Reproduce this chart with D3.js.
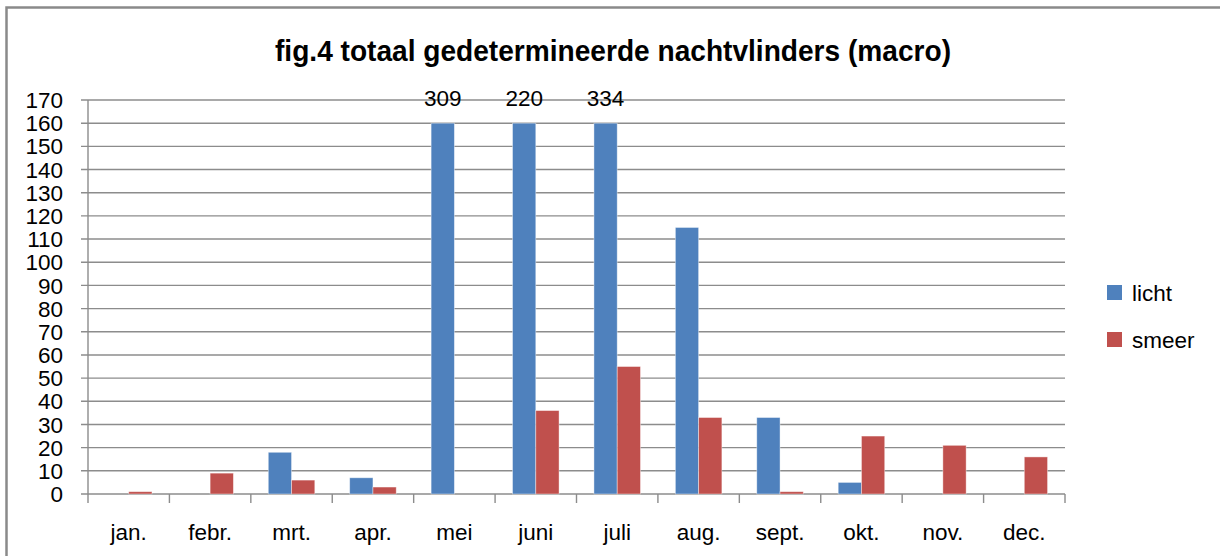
<!DOCTYPE html>
<html><head><meta charset="utf-8">
<script src="https://cdn.jsdelivr.net/npm/d3@7"></script>
<style>body{margin:0;background:#fff}svg{display:block}</style>
</head><body>
<svg id="c" width="1220" height="556"></svg>
<script>
const categories = ["jan.","febr.","mrt.","apr.","mei","juni","juli","aug.","sept.","okt.","nov.","dec."];
const licht = [0,0,18,7,309,220,334,115,33,5,0,0];
const smeer = [1,9,6,3,0,36,55,33,1,25,21,16];
const seriesNames = ["licht","smeer"];
const yTicks = d3.range(0,171,10);
const displayCap = 160; // bars above this value are drawn cut off and labelled
const title = "fig.4 totaal gedetermineerde nachtvlinders (macro)";

(function(){
const colors = ["#4F81BD","#C0504D"];
const FONT = "'Liberation Sans', Arial, sans-serif";
const FS = 22.5;
const svg = d3.select("#c");

// outer border
svg.append("rect").attr("x",6.5).attr("y",7.5).attr("width",1300).attr("height",700)
  .attr("fill","none").attr("stroke","#8a8a8a").attr("stroke-width",2.5);

const pL=88, pR=1065, pT=100, pB=494;
const x = d3.scaleBand().domain(categories).range([pL,pR]).paddingInner(0).paddingOuter(0);
const y = d3.scaleLinear().domain([0,170]).range([pB,pT]);
const bw = x.bandwidth()/3.5;
const xs = d3.scaleBand().domain(seriesNames).range([0,2*bw]);

// gridlines
svg.append("g").selectAll("line").data(yTicks).join("line")
  .attr("x1",pL-7).attr("x2",pR).attr("y1",d=>y(d)).attr("y2",d=>y(d))
  .attr("stroke","#8c8c8c").attr("stroke-width",1.4);

// y axis labels
svg.append("g").selectAll("text").data(yTicks).join("text")
  .attr("x",63).attr("y",d=>y(d)).attr("dy","0.36em").attr("text-anchor","end")
  .attr("font-family",FONT).attr("font-size",FS).attr("fill","#000").text(d=>d);

// y axis line
svg.append("line").attr("x1",pL).attr("x2",pL).attr("y1",pT).attr("y2",pB+9)
  .attr("stroke","#8c8c8c").attr("stroke-width",1.4);
// x ticks
const xt = categories.map(c=>x(c)).concat([pR]);
svg.append("g").selectAll("line").data(xt.slice(1)).join("line")
  .attr("x1",d=>d).attr("x2",d=>d).attr("y1",pB).attr("y2",pB+9)
  .attr("stroke","#8c8c8c").attr("stroke-width",1.4);

// bars
const data = [licht, smeer];
data.forEach((vals,si)=>{
  svg.append("g").selectAll("rect").data(vals.map((v,i)=>({v,c:categories[i]}))).join("rect")
    .attr("x",d=>x(d.c)+x.bandwidth()/2-bw+xs(seriesNames[si]))
    .attr("width",bw)
    .attr("y",d=>y(Math.min(d.v,displayCap)))
    .attr("height",d=>pB-y(Math.min(d.v,displayCap)))
    .attr("fill",colors[si]).attr("stroke","rgba(255,255,255,0.5)").attr("stroke-width",0.8);
});

// value labels for cut-off bars
svg.append("g").selectAll("text").data(licht.map((v,i)=>({v,c:categories[i]})).filter(d=>d.v>displayCap)).join("text")
  .attr("x",d=>x(d.c)+x.bandwidth()/2-bw/2).attr("y",106).attr("text-anchor","middle")
  .attr("font-family",FONT).attr("font-size",FS).attr("fill","#000").text(d=>d.v);

// x labels
svg.append("g").selectAll("text").data(categories).join("text")
  .attr("x",d=>x(d)+x.bandwidth()/2).attr("y",540).attr("text-anchor","middle")
  .attr("font-family",FONT).attr("font-size",FS).attr("fill","#000").text(d=>d);

// title
svg.append("text").attr("x",613).attr("y",61).attr("text-anchor","middle")
  .attr("font-family",FONT).attr("font-weight","bold").attr("font-size",29)
  .attr("textLength",676).attr("lengthAdjust","spacingAndGlyphs").attr("fill","#000").text(title);

// legend
seriesNames.forEach((n,i)=>{
  const ly = 285 + i*47;
  svg.append("rect").attr("x",1107).attr("y",ly).attr("width",15).attr("height",15).attr("fill",colors[i]);
  svg.append("text").attr("x",1132).attr("y",ly+16).attr("font-family",FONT).attr("font-size",FS)
    .attr("fill","#000").text(n);
});
})();
</script>
</body></html>
